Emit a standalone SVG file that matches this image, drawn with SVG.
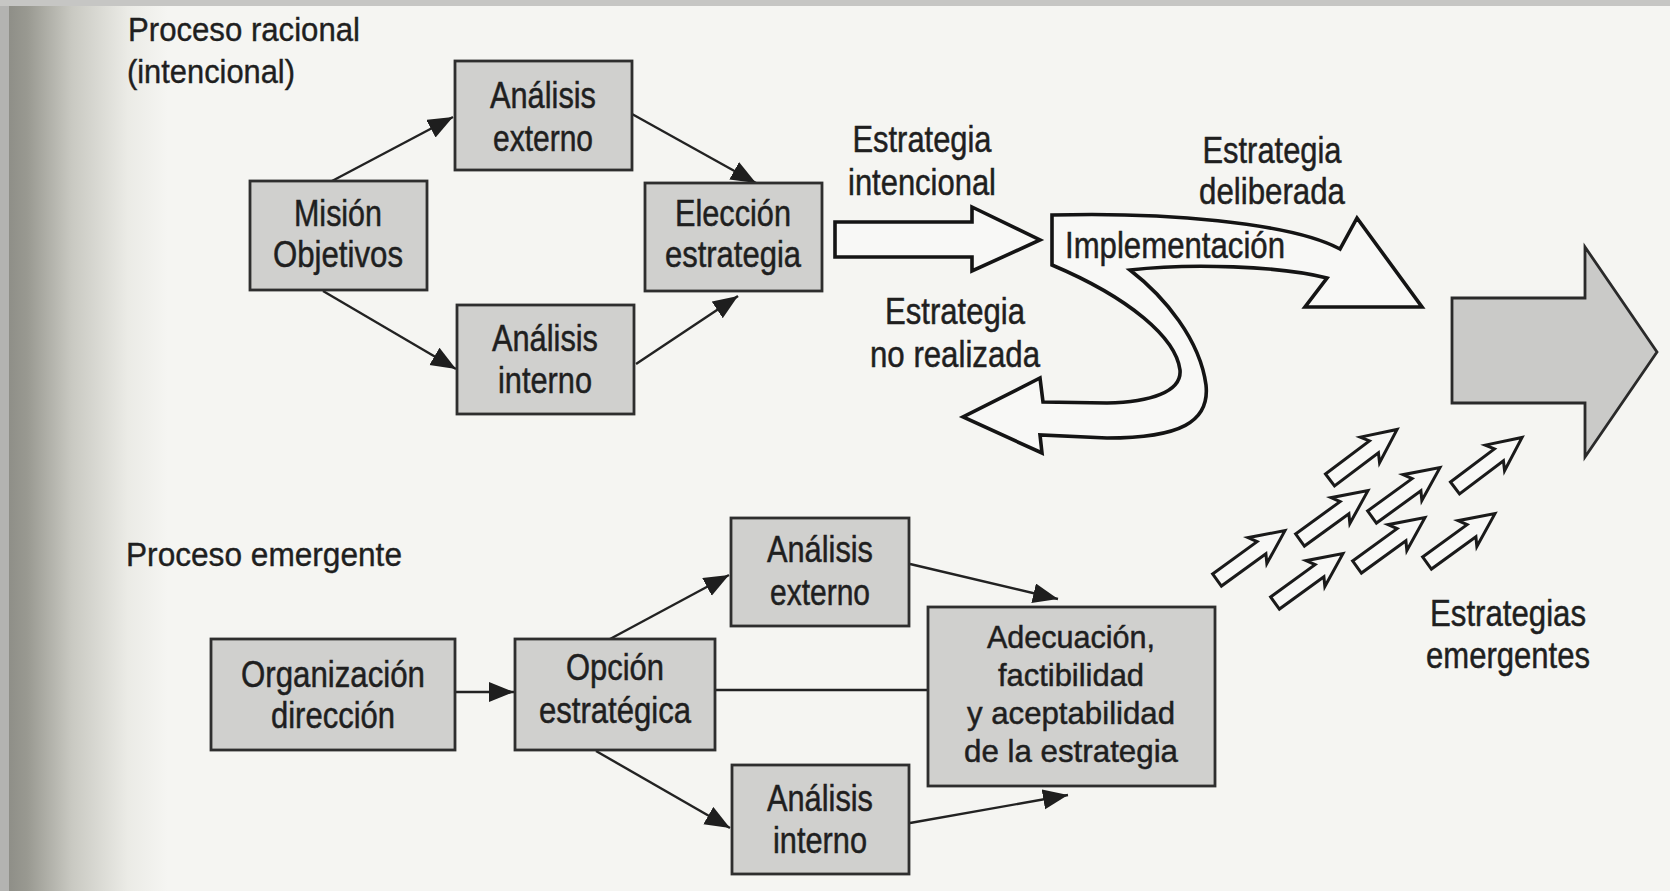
<svg xmlns="http://www.w3.org/2000/svg" width="1670" height="891" viewBox="0 0 1670 891">
<defs>
<linearGradient id="edge" x1="0" y1="0" x2="1" y2="0">
<stop offset="0" stop-color="#8e8e87"/>
<stop offset="0.12" stop-color="#999991"/>
<stop offset="0.4" stop-color="#c9c9c2"/>
<stop offset="0.75" stop-color="#ebebe6"/>
<stop offset="1" stop-color="#f5f5f2"/>
</linearGradient>
<marker id="ah" markerUnits="userSpaceOnUse" markerWidth="28" markerHeight="22" refX="25" refY="10" orient="auto">
<path d="M0,0 L25,10 L0,20 Z" fill="#1e1e1e"/>
</marker>
<path id="sa" d="M0,-7.5 H55 L50,-16 L84,0 L50,16 L55,7.5 H0 Z"/>
<style>
.box{fill:#d0d0ce;stroke:#2e2e2e;stroke-width:2.8}
.t{font-family:"Liberation Sans",Arial,sans-serif;fill:#1f1f1f;stroke:#1f1f1f;stroke-width:0.5;text-anchor:middle;font-size:36px}
.t2{font-size:32px}
.l{font-family:"Liberation Sans",Arial,sans-serif;fill:#1f1f1f;stroke:#1f1f1f;stroke-width:0.4;font-size:33px}
.c{fill:none;stroke:#222;stroke-width:2.4;marker-end:url(#ah)}
.cn{fill:none;stroke:#222;stroke-width:2.4}
.ho{fill:#f8f8f6;stroke:#141414;stroke-width:3.6;stroke-linejoin:miter}
.sm{fill:#f8f8f6;stroke:#1a1a1a;stroke-width:3;stroke-linejoin:miter}
</style>
</defs>
<g id="page">
<rect x="0" y="0" width="1670" height="891" fill="#f5f5f2"/>
<rect x="8" y="0" width="160" height="891" fill="url(#edge)"/>
<rect x="0" y="0" width="9" height="891" fill="#b3b3b1"/>
<rect x="0" y="0" width="1670" height="6" fill="#c6c6c4"/>
</g>

<g id="label-racional">
<text class="l" x="128" y="41" textLength="232" lengthAdjust="spacingAndGlyphs">Proceso racional</text>
<text class="l" x="127" y="83" textLength="168" lengthAdjust="spacingAndGlyphs">(intencional)</text>
</g>
<g id="label-emergente">
<text class="l" x="126" y="566" textLength="276" lengthAdjust="spacingAndGlyphs">Proceso emergente</text>
</g>

<g id="connectors">
<line class="c" x1="332" y1="181" x2="453" y2="117"/>
<line class="c" x1="632" y1="114" x2="756" y2="183"/>
<line class="c" x1="323" y1="291" x2="456" y2="369"/>
<line class="c" x1="636" y1="364" x2="738" y2="296"/>
<line class="c" x1="455" y1="692" x2="514" y2="692"/>
<line class="c" x1="610" y1="639" x2="729" y2="575"/>
<line class="c" x1="596" y1="751" x2="730" y2="828"/>
<line class="cn" x1="715" y1="690" x2="928" y2="690"/>
<line class="c" x1="910" y1="564" x2="1058" y2="599"/>
<line class="c" x1="910" y1="823" x2="1068" y2="795"/>
</g>

<g id="n-analisis-externo-1">
<rect class="box" x="455" y="61" width="177" height="109"/>
<text class="t" x="543" y="108" textLength="106" lengthAdjust="spacingAndGlyphs">Análisis</text>
<text class="t" x="543" y="151" textLength="100" lengthAdjust="spacingAndGlyphs">externo</text>
</g>
<g id="n-mision">
<rect class="box" x="250" y="181" width="177" height="109"/>
<text class="t" x="338" y="226" textLength="88" lengthAdjust="spacingAndGlyphs">Misión</text>
<text class="t" x="338" y="267" textLength="130" lengthAdjust="spacingAndGlyphs">Objetivos</text>
</g>
<g id="n-eleccion">
<rect class="box" x="645" y="183" width="177" height="108"/>
<text class="t" x="733" y="226" textLength="116" lengthAdjust="spacingAndGlyphs">Elección</text>
<text class="t" x="733" y="267" textLength="136" lengthAdjust="spacingAndGlyphs">estrategia</text>
</g>
<g id="n-analisis-interno-1">
<rect class="box" x="457" y="305" width="177" height="109"/>
<text class="t" x="545" y="351" textLength="106" lengthAdjust="spacingAndGlyphs">Análisis</text>
<text class="t" x="545" y="393" textLength="94" lengthAdjust="spacingAndGlyphs">interno</text>
</g>

<g id="n-organizacion">
<rect class="box" x="211" y="639" width="244" height="111"/>
<text class="t" x="333" y="687" textLength="184" lengthAdjust="spacingAndGlyphs">Organización</text>
<text class="t" x="333" y="728" textLength="124" lengthAdjust="spacingAndGlyphs">dirección</text>
</g>
<g id="n-opcion">
<rect class="box" x="515" y="639" width="200" height="111"/>
<text class="t" x="615" y="680" textLength="98" lengthAdjust="spacingAndGlyphs">Opción</text>
<text class="t" x="615" y="723" textLength="152" lengthAdjust="spacingAndGlyphs">estratégica</text>
</g>
<g id="n-analisis-externo-2">
<rect class="box" x="731" y="518" width="178" height="108"/>
<text class="t" x="820" y="562" textLength="106" lengthAdjust="spacingAndGlyphs">Análisis</text>
<text class="t" x="820" y="605" textLength="100" lengthAdjust="spacingAndGlyphs">externo</text>
</g>
<g id="n-analisis-interno-2">
<rect class="box" x="732" y="765" width="177" height="109"/>
<text class="t" x="820" y="811" textLength="106" lengthAdjust="spacingAndGlyphs">Análisis</text>
<text class="t" x="820" y="853" textLength="94" lengthAdjust="spacingAndGlyphs">interno</text>
</g>
<g id="n-adecuacion">
<rect class="box" x="928" y="607" width="287" height="179"/>
<text class="t t2" x="1071" y="648" textLength="168" lengthAdjust="spacingAndGlyphs">Adecuación,</text>
<text class="t t2" x="1071" y="686" textLength="146" lengthAdjust="spacingAndGlyphs">factibilidad</text>
<text class="t t2" x="1071" y="724" textLength="208" lengthAdjust="spacingAndGlyphs">y aceptabilidad</text>
<text class="t t2" x="1071" y="762" textLength="214" lengthAdjust="spacingAndGlyphs">de la estrategia</text>
</g>

<g id="a-intencional">
<path class="ho" d="M835,222 H972 V207 L1040,240 L972,271 V257 H835 Z"/>
<text class="t" x="922" y="152" textLength="139" lengthAdjust="spacingAndGlyphs">Estrategia</text>
<text class="t" x="922" y="195" textLength="148" lengthAdjust="spacingAndGlyphs">intencional</text>
</g>

<g id="a-implementacion">
<path class="ho" d="M1052,215 C1160,212 1290,222 1340,249 L1357,218 L1422,307 L1305,307 L1327,278 C1280,266 1190,263 1130,270 C1165,297 1200,340 1206,385 C1210,422 1180,438 1107,438 L1040,435 L1042,453 L963,417 L1040,378 L1043,402 L1107,403 C1150,402 1182,392 1180,370 C1176,338 1130,298 1052,265 Z"/>
<text class="t" x="1065" y="258" style="text-anchor:start" textLength="220" lengthAdjust="spacingAndGlyphs">Implementación</text>
</g>

<g id="label-deliberada">
<text class="t" x="1272" y="163" textLength="139" lengthAdjust="spacingAndGlyphs">Estrategia</text>
<text class="t" x="1272" y="204" textLength="146" lengthAdjust="spacingAndGlyphs">deliberada</text>
</g>
<g id="label-no-realizada">
<text class="t" x="955" y="324" textLength="140" lengthAdjust="spacingAndGlyphs">Estrategia</text>
<text class="t" x="955" y="367" textLength="170" lengthAdjust="spacingAndGlyphs">no realizada</text>
</g>

<g id="a-realizada">
<path d="M1452,298 H1585 V247 L1657,352 L1585,457 V403 H1452 Z" fill="#cacac8" stroke="#2a2a2a" stroke-width="2.8"/>
</g>

<g id="a-emergentes">
<use href="#sa" class="sm" transform="translate(1217,580) rotate(-36)"/>
<use href="#sa" class="sm" transform="translate(1275,603) rotate(-36)"/>
<use href="#sa" class="sm" transform="translate(1300,540) rotate(-36)"/>
<use href="#sa" class="sm" transform="translate(1330,480) rotate(-37)"/>
<use href="#sa" class="sm" transform="translate(1372,517) rotate(-36)"/>
<use href="#sa" class="sm" transform="translate(1357,567) rotate(-36)"/>
<use href="#sa" class="sm" transform="translate(1427,563) rotate(-36)"/>
<use href="#sa" class="sm" transform="translate(1455,488) rotate(-37)"/>
</g>
<g id="label-emergentes">
<text class="t" x="1508" y="626" textLength="156" lengthAdjust="spacingAndGlyphs">Estrategias</text>
<text class="t" x="1508" y="668" textLength="164" lengthAdjust="spacingAndGlyphs">emergentes</text>
</g>
</svg>
